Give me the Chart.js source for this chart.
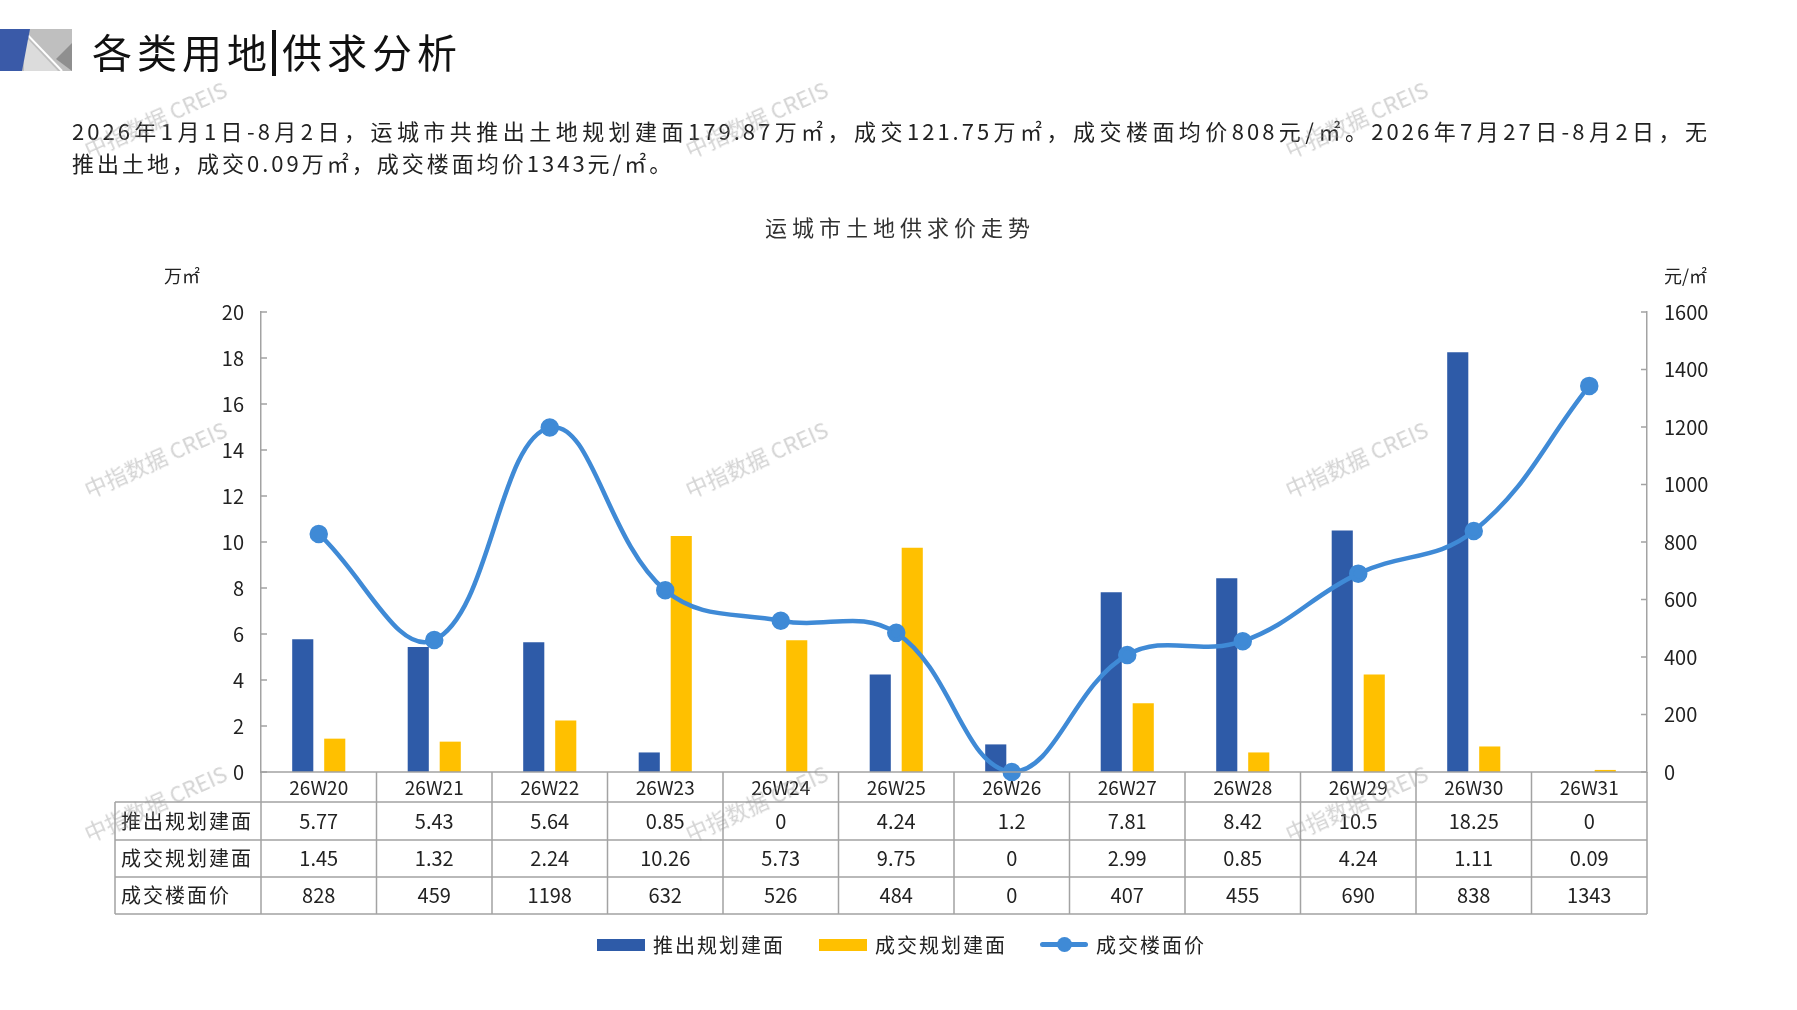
<!DOCTYPE html>
<html lang="zh">
<head>
<meta charset="utf-8">
<title>运城市土地供求价走势</title>
<script src="https://cdn.jsdelivr.net/npm/chart.js@4.4.1/dist/chart.umd.min.js"></script>
<style>
    html, body { margin: 0; padding: 0; background: #fff; }
    body {
        width: 1797px; height: 1010px; position: relative; overflow: hidden;
        font-family: "Noto Sans CJK SC", "Noto Sans", sans-serif; color: #222;
    }
    #chart { position: absolute; left: 0; top: 0; }
    .abs { position: absolute; white-space: nowrap; }
    #logo { left: 0; top: 29px; }
    #title { left: 92px; top: 26px; font-size: 40px; line-height: 50px; letter-spacing: 5px; color: #111; }
    #title .bar { display: inline-block; width: 4px; height: 46px; background: #111; vertical-align: -8px; margin: 0 6px 0 0; }
    .para { left: 72px; font-size: 22px; line-height: 30px; letter-spacing: 3px; color: #222; }
    #p1 { top: 115px; width: 1638px; white-space: normal; text-align: justify; text-align-last: justify; }
    #p2 { top: 147px; }
    #chartTitle { left: 0; width: 1800px; top: 211px; text-align: center; font-size: 22px; line-height: 30px; letter-spacing: 5px; color: #333; }
    .unit { top: 263px; font-size: 18px; line-height: 24px; color: #222; }
    #unitL { left: 164px; }
    #unitR { left: 1664px; }
    .wm { font-size: 22px; color: rgba(150, 150, 150, 0.42); transform: translate(-50%, -50%) rotate(-24deg); pointer-events: none; font-family: "Noto Sans CJK SC", "Liberation Sans", sans-serif; }
    #legend .item { position: absolute; top: 931px; height: 28px; font-size: 20px; line-height: 28px; letter-spacing: 2px; color: #222; white-space: nowrap; }
    #legend .sw { position: absolute; left: 0; top: 8px; width: 48px; height: 12px; }
    #legend .ln { position: absolute; left: 0; top: 11px; width: 48px; height: 5px; border-radius: 3px; }
    #legend .dot { position: absolute; left: 17px; top: 6px; width: 15px; height: 15px; border-radius: 50%; }
    #legend .txt { position: absolute; left: 56px; top: 0; white-space: nowrap; }
</style>
</head>
<body>
<canvas id="chart" width="1797" height="1010"></canvas>

<svg id="logo" class="abs" width="72" height="42" viewBox="0 0 72 42">
    <rect x="20" y="0" width="52" height="42" fill="#bfbfbf"/>
    <polygon points="24,6 24,42 58,42" fill="#dcdcdc"/>
    <polygon points="56,30 72,14 72,42" fill="#8f8f8f"/>
    <line x1="22" y1="0" x2="62" y2="42" stroke="#ffffff" stroke-width="2"/>
    <polygon points="0,0 30,0 22,42 0,42" fill="#3a5aa8"/>
</svg>
<div id="title" class="abs">各类用地<span class="bar"></span>供求分析</div>
<div id="p1" class="abs para">2026年1月1日-8月2日，运城市共推出土地规划建面179.87万㎡，成交121.75万㎡，成交楼面均价808元/㎡。2026年7月27日-8月2日，无</div>
<div id="p2" class="abs para">推出土地，成交0.09万㎡，成交楼面均价1343元/㎡。</div>
<div id="chartTitle" class="abs">运城市土地供求价走势</div>
<div id="unitL" class="abs unit">万㎡</div>
<div id="unitR" class="abs unit">元/㎡</div>
<div id="legend"></div>
<div id="marks"></div>

<script>
// 周次
const weeks = ['26W20', '26W21', '26W22', '26W23', '26W24', '26W25', '26W26', '26W27', '26W28', '26W29', '26W30', '26W31'];
// 推出规划建面（万㎡）
const launchedArea = [5.77, 5.43, 5.64, 0.85, 0, 4.24, 1.2, 7.81, 8.42, 10.5, 18.25, 0];
// 成交规划建面（万㎡）
const soldArea = [1.45, 1.32, 2.24, 10.26, 5.73, 9.75, 0, 2.99, 0.85, 4.24, 1.11, 0.09];
// 成交楼面价（元/㎡）
const soldPrice = [828, 459, 1198, 632, 526, 484, 0, 407, 455, 690, 838, 1343];
// 坐标轴范围
const areaTicks = { min: 0, max: 20, step: 2 };
const priceTicks = { min: 0, max: 1600, step: 200 };
// 表格行名
const rowNames = ['推出规划建面', '成交规划建面', '成交楼面价'];

const blue = '#2e5ba8';
const yellow = '#ffc000';
const lineBlue = '#3f8ad6';
const gridGray = '#a3a3a3';
const family = '"Noto Sans CJK SC", "Noto Sans", sans-serif';

Chart.defaults.font.family = family;
Chart.defaults.color = '#222';

// 水印
const marks = document.getElementById('marks');
[155, 756, 1356].forEach(x => {
    [118, 458, 802].forEach(y => {
        const d = document.createElement('div');
        d.className = 'abs wm';
        d.style.left = x + 'px';
        d.style.top = y + 'px';
        d.textContent = '中指数据 CREIS';
        marks.appendChild(d);
    });
});

// 坐标轴内侧刻度线
const innerTicks = {
    id: 'innerTicks',
    afterDatasetsDraw(chart) {
        const ctx = chart.ctx;
        const area = chart.chartArea;
        ctx.save();
        ctx.strokeStyle = gridGray;
        ctx.lineWidth = 1.5;
        ctx.beginPath();
        chart.scales.y.ticks.forEach(t => {
            const py = chart.scales.y.getPixelForValue(t.value);
            ctx.moveTo(area.left, py);
            ctx.lineTo(area.left + 6, py);
        });
        chart.scales.y1.ticks.forEach(t => {
            const py = chart.scales.y1.getPixelForValue(t.value);
            ctx.moveTo(area.right - 6, py);
            ctx.lineTo(area.right, py);
        });
        ctx.stroke();
        ctx.restore();
    }
};

// 底部数据表
const dataTable = {
    id: 'dataTable',
    afterDraw(chart) {
        const ctx = chart.ctx;
        const area = chart.chartArea;
        const xs = chart.scales.x;
        const tableLeft = 115;
        const rows = [area.bottom, area.bottom + 30, area.bottom + 68, area.bottom + 105, area.bottom + 142];
        const edges = [area.left];
        for (let i = 0; i < weeks.length - 1; i++) {
            edges.push((xs.getPixelForValue(i) + xs.getPixelForValue(i + 1)) / 2);
        }
        edges.push(area.right);

        ctx.save();
        ctx.strokeStyle = gridGray;
        ctx.lineWidth = 1.5;
        ctx.beginPath();
        ctx.moveTo(area.left, rows[0]);
        ctx.lineTo(area.right, rows[0]);
        for (let r = 1; r < rows.length; r++) {
            ctx.moveTo(tableLeft, rows[r]);
            ctx.lineTo(area.right, rows[r]);
        }
        edges.forEach(e => {
            ctx.moveTo(e, rows[0]);
            ctx.lineTo(e, rows[4]);
        });
        ctx.moveTo(tableLeft, rows[1]);
        ctx.lineTo(tableLeft, rows[4]);
        ctx.stroke();

        ctx.fillStyle = '#222';
        ctx.textBaseline = 'middle';
        ctx.textAlign = 'center';
        ctx.font = '19px ' + family;
        weeks.forEach((w, i) => {
            ctx.fillText(w, xs.getPixelForValue(i), (rows[0] + rows[1]) / 2 + 1);
        });
        const series = [launchedArea, soldArea, soldPrice];
        ctx.font = '20px ' + family;
        series.forEach((vals, r) => {
            const cy = (rows[r + 1] + rows[r + 2]) / 2;
            vals.forEach((v, i) => {
                ctx.fillText(String(v), xs.getPixelForValue(i), cy);
            });
        });
        ctx.textAlign = 'left';
        ctx.letterSpacing = '2px';
        rowNames.forEach((name, r) => {
            ctx.fillText(name, tableLeft + 6, (rows[r + 1] + rows[r + 2]) / 2);
        });
        ctx.restore();
    }
};

const chart = new Chart(document.getElementById('chart'), {
    data: {
        labels: weeks,
        datasets: [
            {
                type: 'bar',
                label: '推出规划建面',
                data: launchedArea,
                yAxisID: 'y',
                backgroundColor: blue,
                categoryPercentage: 0.554,
                barPercentage: 0.66,
                order: 1
            },
            {
                type: 'bar',
                label: '成交规划建面',
                data: soldArea,
                yAxisID: 'y',
                backgroundColor: yellow,
                categoryPercentage: 0.554,
                barPercentage: 0.66,
                order: 1
            },
            {
                type: 'line',
                label: '成交楼面价',
                data: soldPrice,
                yAxisID: 'y1',
                borderColor: lineBlue,
                backgroundColor: lineBlue,
                borderWidth: 4.5,
                pointRadius: 7,
                pointHoverRadius: 7,
                tension: 0.4,
                clip: false,
                order: 0
            }
        ]
    },
    options: {
        responsive: false,
        animation: false,
        layout: { padding: { left: 0, right: 0, top: 312, bottom: 0 } },
        plugins: {
            legend: { display: false },
            title: { display: false },
            tooltip: { enabled: false }
        },
        scales: {
            x: {
                type: 'category',
                offset: true,
                grid: { display: false, drawTicks: false },
                border: { display: false },
                ticks: { display: false },
                afterFit(s) { s.height = 1010 - 772; }
            },
            y: {
                position: 'left',
                min: areaTicks.min,
                max: areaTicks.max,
                ticks: { stepSize: areaTicks.step, padding: 17, color: '#222', font: { size: 20 }, callback: v => String(v) },
                grid: { display: false, drawTicks: false },
                border: { display: true, color: gridGray, width: 1.5 },
                afterFit(s) { s.width = 261; }
            },
            y1: {
                position: 'right',
                min: priceTicks.min,
                max: priceTicks.max,
                ticks: { stepSize: priceTicks.step, padding: 17, color: '#222', font: { size: 20 }, callback: v => String(v) },
                grid: { display: false, drawTicks: false },
                border: { display: true, color: gridGray, width: 1.5 },
                afterFit(s) { s.width = 150; }
            }
        }
    },
    plugins: [innerTicks, dataTable]
});

// 图例
const legend = document.getElementById('legend');
const legendX = [597, 819, 1040];
chart.data.datasets.forEach((ds, i) => {
    const item = document.createElement('div');
    item.className = 'item';
    item.style.left = legendX[i] + 'px';
    if (ds.type === 'line') {
        item.innerHTML = '<span class="ln" style="background:' + ds.borderColor + '"></span>' +
            '<span class="dot" style="background:' + ds.borderColor + '"></span>';
    } else {
        item.innerHTML = '<span class="sw" style="background:' + ds.backgroundColor + '"></span>';
    }
    const t = document.createElement('span');
    t.className = 'txt';
    t.textContent = ds.label;
    item.appendChild(t);
    legend.appendChild(item);
});
</script>
</body>
</html>
